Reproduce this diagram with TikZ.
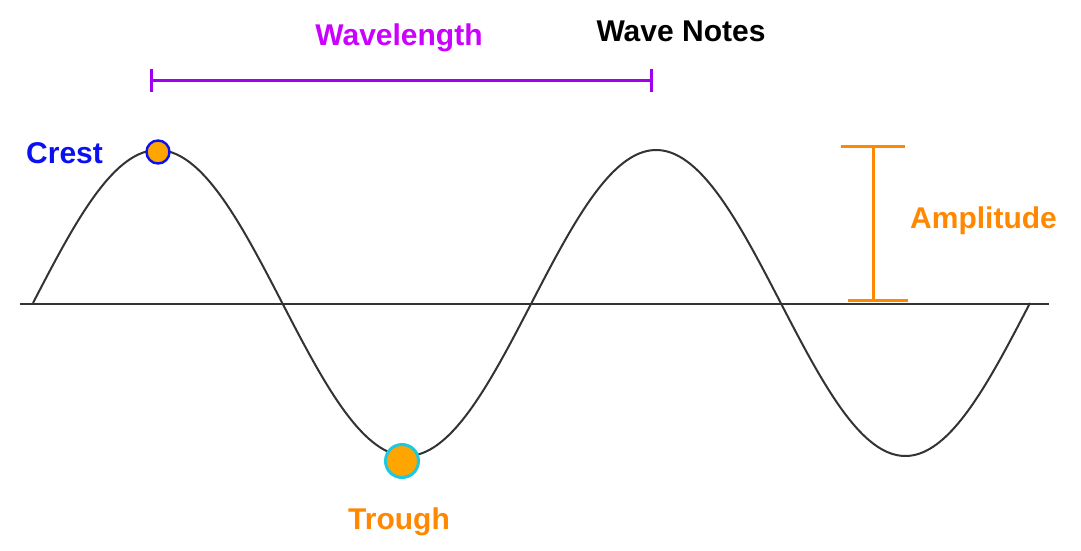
\documentclass[tikz,border=0pt]{standalone}
\usepackage{fontspec}
\setmainfont{Liberation Sans}
\definecolor{wlbar}{HTML}{A000F0}
\definecolor{wltext}{HTML}{CC00FF}
\definecolor{amp}{HTML}{FF8800}
\definecolor{dotfill}{HTML}{FFA500}
\definecolor{crestblue}{HTML}{0A10F0}
\definecolor{troughcyan}{HTML}{1EC8E0}
\begin{document}
\begin{tikzpicture}[x=1pt,y=-1pt,
  lbl/.style={font=\fontsize{30}{36}\selectfont\bfseries, inner sep=0pt},
  bar/.style={line width=3pt},
  wave/.style={line width=2pt, draw=black!80},
  axisline/.style={line width=2.6pt, draw=black!80}]
\useasboundingbox (0,0) rectangle (1081,551);
% axis
\coordinate (axL) at (20,304);
\coordinate (axR) at (1049,304);
\draw[axisline] (axL) -- (axR);
% wave
\draw[wave] plot[domain=33:1030, samples=300, smooth] (\x, {303-153*sin(((\x-33)/498.5)*360)});
% wavelength bar
\coordinate (wl1) at (151,80);
\coordinate (wl2) at (651,80);
\draw[bar, wlbar] (wl1) -- (wl2);
\draw[bar, wlbar] ([yshift=-12]wl1) -- ([yshift=11]wl1);
\draw[bar, wlbar] ([yshift=-12]wl2) -- ([yshift=11]wl2);
\node[lbl, text=wltext, anchor=base] (wltxt) at (399,46) {Wavelength};
\node[lbl, text=black, anchor=base] (notes) at (681,42) {Wave Notes};
% amplitude bar
\coordinate (am1) at (873,146);
\coordinate (am2) at (873,300);
\draw[bar, amp] (am1) -- (am2);
\draw[bar, amp] (841,146) -- (905,146);
\draw[bar, amp] (848,300) -- (908,300);
\node[lbl, text=amp, anchor=base west] (amptxt) at (910,228) {Amplitude};
% crest
\node[circle, fill=dotfill, draw=crestblue, line width=2.4pt, minimum size=23pt, inner sep=0pt] (crest) at (158,152) {};
\node[lbl, text=crestblue, anchor=base west] (cresttxt) at (26,163) {Crest};
% trough
\node[circle, fill=dotfill, draw=troughcyan, line width=3pt, minimum size=33pt, inner sep=0pt] (trough) at (402,461) {};
\node[lbl, text=amp, anchor=base] (troughtxt) at (399,529) {Trough};
\end{tikzpicture}
\end{document}
